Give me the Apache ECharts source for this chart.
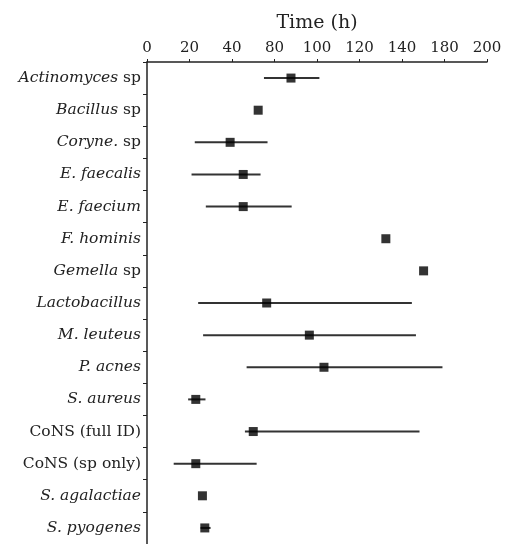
<!DOCTYPE html>
<html><head><meta charset="utf-8">
<script src="https://cdn.jsdelivr.net/npm/echarts@6/dist/echarts.min.js"></script>
<style>html,body{margin:0;padding:0;background:#fff}#c{width:505px;height:544px}</style>
</head><body><div id="c"></div>
<script>
// Categories (top to bottom)
var categories = ['Actinomyces sp','Bacillus sp','Coryne. sp','E. faecalis','E. faecium','F. hominis','Gemella sp','Lactobacillus','M. leuteus','P. acnes','S. aureus','CoNS (full ID)','CoNS (sp only)','S. agalactiae','S. pyogenes'];
// Rich-text label formatting (italic part / upright part)
var labelItalic = ['Actinomyces','Bacillus','Coryne.','E. faecalis','E. faecium','F. hominis','Gemella','Lactobacillus','M. leuteus','P. acnes','S. aureus','','','S. agalactiae','S. pyogenes'];
var labelUpright = [' sp',' sp',' sp','','','',' sp','','','','','CoNS (full ID)','CoNS (sp only)','',''];
// Values on the axis scale (0-200 linear, 8 equal intervals)
var centers = [84.7,65.4,48.9,56.6,56.6,140.5,162.7,70.4,95.5,104.1,28.7,62.5,28.7,32.6,34.0];
var lows    = [68.8,null,28.1,26.2,34.6,null,null,30.1,33.0,58.6,24.2,57.6,15.7,null,31.5];
var highs   = [101.4,null,70.9,66.8,85.1,null,null,155.8,158.2,173.8,34.4,160.3,64.5,null,37.4];
// Tick labels as printed on the chart
var tickLabels = ['0','20','40','80','100','120','140','180','200'];

var errData = [];
for (var i = 0; i < categories.length; i++) {
  if (lows[i] != null) errData.push([i, lows[i], highs[i]]);
}
var ptData = centers.map(function(v, i){ return [v, i]; });

var serif = '"DejaVu Serif","Liberation Serif",serif';
var chart = echarts.init(document.getElementById('c'));
chart.setOption({
  animation: false,
  grid: {left: 147, top: 62, width: 340, height: 486},
  xAxis: {
    type: 'value', position: 'top', min: 0, max: 200, interval: 25,
    name: 'Time (h)', nameLocation: 'middle', nameGap: 29,
    nameTextStyle: {fontFamily: serif, fontSize: 19, color: '#222'},
    axisLine: {show: true, lineStyle: {color: '#222', width: 1.5}},
    axisTick: {show: true, length: 3, lineStyle: {color: '#222'}},
    splitLine: {show: false},
    axisLabel: {
      fontFamily: serif, fontSize: 15, color: '#222', margin: 6,
      formatter: function(v){ return tickLabels[Math.round(v / 25)]; }
    }
  },
  yAxis: {
    type: 'category', data: categories, inverse: true,
    axisLine: {show: true, lineStyle: {color: '#222', width: 1.5}},
    axisTick: {show: true, length: 4, lineStyle: {color: '#222'}},
    axisLabel: {
      margin: 6,
      formatter: function(v, idx){
        var s = '';
        if (labelItalic[idx]) s += '{i|' + labelItalic[idx] + '}';
        if (labelUpright[idx]) s += '{u|' + labelUpright[idx] + '}';
        return s;
      },
      rich: {
        i: {fontFamily: serif, fontStyle: 'italic', fontSize: 15.5, color: '#222'},
        u: {fontFamily: serif, fontSize: 15.5, color: '#222'}
      }
    }
  },
  series: [
    {
      type: 'custom',
      data: errData,
      renderItem: function(params, api){
        var y = api.value(0);
        var p1 = api.coord([api.value(1), y]);
        var p2 = api.coord([api.value(2), y]);
        return {type: 'line', shape: {x1: p1[0], y1: p1[1], x2: p2[0], y2: p2[1]},
                style: {stroke: '#333', lineWidth: 2}};
      },
      encode: {x: [1, 2], y: 0},
      z: 2
    },
    {
      type: 'scatter', data: ptData, symbol: 'rect', symbolSize: 9,
      itemStyle: {color: '#000'}, z: 3
    }
  ]
});
</script></body></html>
